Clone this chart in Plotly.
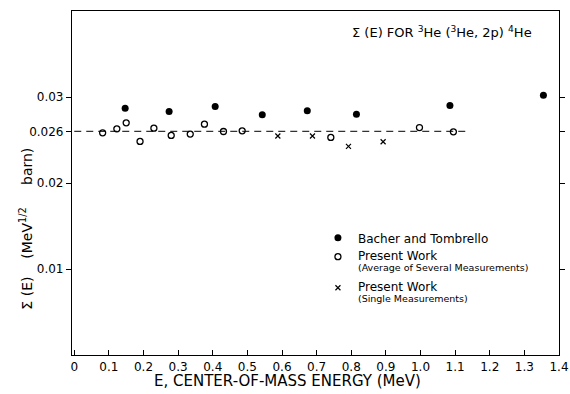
import plotly.graph_objects as go

# Data
bt_x = [0.147, 0.274, 0.407, 0.543, 0.673, 0.815, 1.085, 1.355]
bt_y = [0.0287, 0.0283, 0.0289, 0.02795, 0.0284, 0.0280, 0.0290, 0.0302]

avg_x = [0.082, 0.123, 0.150, 0.190, 0.230, 0.280, 0.335, 0.376, 0.431, 0.485, 0.741, 0.997, 1.095]
avg_y = [0.02584, 0.0263, 0.0270, 0.02483, 0.02638, 0.02553, 0.02569, 0.02684, 0.02599, 0.02607, 0.0253, 0.02645, 0.02595]

single_x = [0.588, 0.688, 0.792, 0.892]
single_y = [0.02546, 0.02546, 0.02425, 0.0248]

ref_x = [0.0, 1.14]
ref_y = [0.026, 0.026]

x_ticks = [round(0.1 * i, 1) for i in range(15)]
x_ticktext = ["0"] + [f"{v:.1f}" for v in x_ticks[1:]]
y_ticks = [0.01, 0.02, 0.026, 0.03]
y_ticktext = ["0.01", "0.02", "0.026", "0.03"]

FONT = "DejaVu Sans"
NB = "\u00a0"

def big(s):
    return f"<span style='font-size:12px'>{s}</span>"

def small(s):
    return f"<span style='font-size:9.5px'>{s}</span>"

fig = go.Figure()
fig.add_trace(go.Scatter(x=ref_x, y=ref_y, mode="lines",
                         line=dict(color="#333", width=1.1, dash="7px,5px"),
                         showlegend=False, hoverinfo="skip"))
fig.add_trace(go.Scatter(x=bt_x, y=bt_y, mode="markers", name=big("Bacher and Tombrello"),
                         legendgroup="a",
                         marker=dict(symbol="circle", size=7, color="black")))
fig.add_trace(go.Scatter(x=avg_x, y=avg_y, mode="markers", legendgroup="a",
                         name=big("Present Work") + "<br>" + small("(Average of Several Measurements)"),
                         marker=dict(symbol="circle-open", size=6, color="black", line=dict(width=1.3))))
fig.add_trace(go.Scatter(x=single_x, y=single_y, mode="markers", legendgroup="b",
                         name=big("Present Work") + "<br>" + small("(Single Measurements)"),
                         marker=dict(symbol="x-thin-open", size=5, color="black", line=dict(width=1.2))))

fig.update_layout(
    width=570, height=394,
    margin=dict(l=72, r=11, t=11, b=39, autoexpand=False),
    paper_bgcolor="white", plot_bgcolor="white",
    font=dict(family=FONT, size=12, color="black"),
    xaxis=dict(range=[-0.0065, 1.4], tickvals=x_ticks, ticktext=x_ticktext,
               ticks="inside", ticklen=5, tickwidth=1, tickcolor="black",
               showline=True, linecolor="black", linewidth=1.2, mirror=True,
               showgrid=False, zeroline=False, tickfont=dict(size=12), automargin=False),
    yaxis=dict(range=[0, 0.04], tickvals=y_ticks, ticktext=y_ticktext,
               ticks="outside", ticklen=5, tickwidth=1, tickcolor="black",
               showline=True, linecolor="black", linewidth=1.2, mirror="ticks",
               showgrid=False, zeroline=False, tickfont=dict(size=12), automargin=False),
    legend=dict(x=0.505, y=0.376, xanchor="left", yanchor="top",
                bgcolor="rgba(0,0,0,0)", valign="top", itemwidth=30,
                font=dict(size=8.5), tracegroupgap=6),
    annotations=[
        dict(text="Σ (E) FOR <sup>3</sup>He (<sup>3</sup>He, 2p) <sup>4</sup>He",
             x=0.76, y=0.939, xref="paper", yref="paper", showarrow=False,
             xanchor="center", yanchor="middle", font=dict(size=13)),
        dict(text=f"Σ (E){NB*4}(MeV<sup>1/2</sup>{NB*5}barn)", textangle=-90,
             x=-0.094, y=0.368, xref="paper", yref="paper", showarrow=False,
             xanchor="center", yanchor="middle", font=dict(size=14)),
        dict(text="E, CENTER-OF-MASS ENERGY (MeV)",
             x=0.4435, y=-0.075, xref="paper", yref="paper", showarrow=False,
             xanchor="center", yanchor="middle", font=dict(size=15)),
    ],
)

fig.write_html("out.html")
